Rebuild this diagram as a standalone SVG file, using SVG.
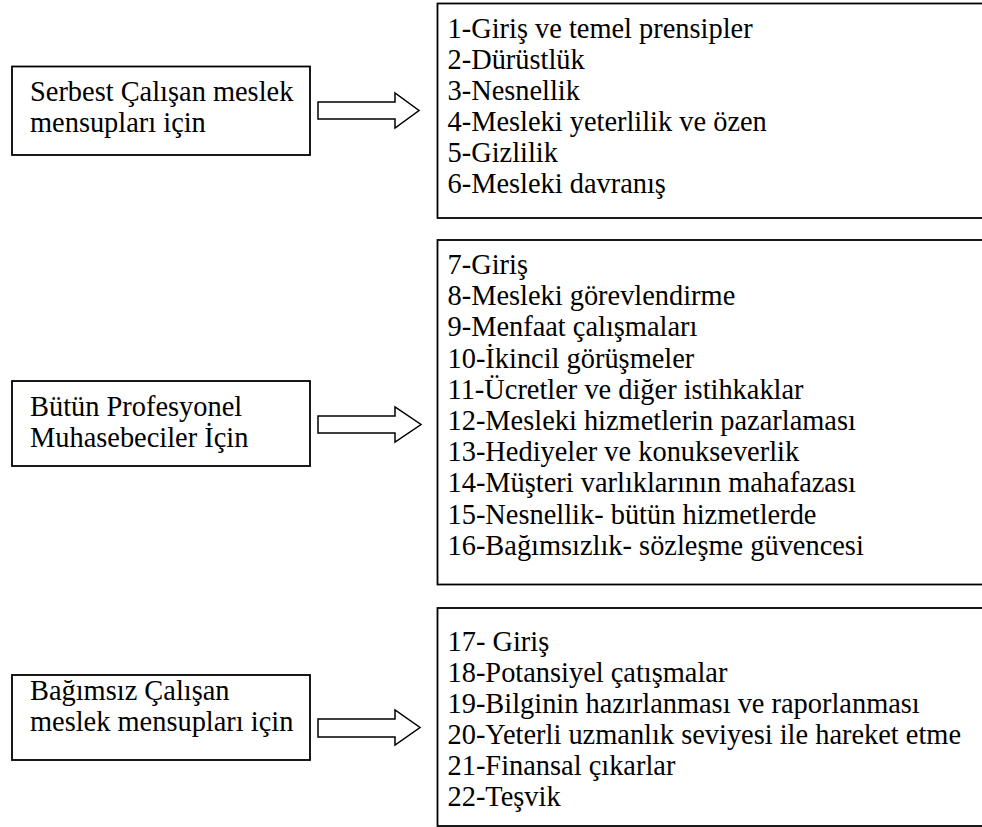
<svg xmlns="http://www.w3.org/2000/svg" width="982" height="827" viewBox="0 0 982 827">
<style>
.box{fill:#fff;stroke:#000;stroke-width:1.8}
.arr{fill:#fff;stroke:#000;stroke-width:1.5;stroke-linejoin:miter}
.t{font-family:'Liberation Serif','Times New Roman',Times,'DejaVu Serif',serif;font-size:28.4px;fill:#000}
</style>
<rect width="982" height="827" fill="#fff"/>
<g class="t" font-family="Liberation Serif, Times New Roman, serif">
<g id="left1"><rect class="box" x="12" y="66.5" width="298" height="88.5"/><text x="30" y="101">Serbest Çalışan meslek</text><text x="30" y="132">mensupları için</text></g>
<g id="left2"><rect class="box" x="12" y="381" width="298" height="85"/><text x="30" y="416">Bütün Profesyonel</text><text x="30" y="447">Muhasebeciler İçin</text></g>
<g id="left3"><rect class="box" x="12" y="675" width="298" height="85"/><text x="30" y="700">Bağımsız Çalışan</text><text x="30" y="731">meslek mensupları için</text></g>
<g id="right1"><rect class="box" x="437.5" y="3.5" width="550" height="214.5"/>
<text x="447.5" y="37.5">1-Giriş ve temel prensipler</text>
<text x="447.5" y="68.5">2-Dürüstlük</text>
<text x="447.5" y="99.5">3-Nesnellik</text>
<text x="447.5" y="130.5">4-Mesleki yeterlilik ve özen</text>
<text x="447.5" y="161.5">5-Gizlilik</text>
<text x="447.5" y="192.5">6-Mesleki davranış</text></g>
<g id="right2"><rect class="box" x="437.5" y="240" width="550" height="344.5"/>
<text x="447.5" y="274">7-Giriş</text>
<text x="447.5" y="305.2">8-Mesleki görevlendirme</text>
<text x="447.5" y="336.4">9-Menfaat çalışmaları</text>
<text x="447.5" y="367.6">10-İkincil görüşmeler</text>
<text x="447.5" y="398.8">11-Ücretler ve diğer istihkaklar</text>
<text x="447.5" y="430">12-Mesleki hizmetlerin pazarlaması</text>
<text x="447.5" y="461.2">13-Hediyeler ve konukseverlik</text>
<text x="447.5" y="492.4">14-Müşteri varlıklarının mahafazası</text>
<text x="447.5" y="523.6">15-Nesnellik- bütün hizmetlerde</text>
<text x="447.5" y="554.8">16-Bağımsızlık- sözleşme güvencesi</text></g>
<g id="right3"><rect class="box" x="437.5" y="608" width="550" height="218"/>
<text x="447.5" y="650.5">17- Giriş</text>
<text x="447.5" y="681.5">18-Potansiyel çatışmalar</text>
<text x="447.5" y="712.5">19-Bilginin hazırlanması ve raporlanması</text>
<text x="447.5" y="743.5">20-Yeterli uzmanlık seviyesi ile hareket etme</text>
<text x="447.5" y="774.5">21-Finansal çıkarlar</text>
<text x="447.5" y="805.5">22-Teşvik</text></g>
</g>
<g id="connectors">
<polygon class="arr" points="318,102 395,102 395,93 419,110.5 395,128 395,119 318,119"/>
<polygon class="arr" points="318,416 395,416 395,407 421,424.5 395,442 395,433 318,433"/>
<polygon class="arr" points="318,719 395,719 395,710 420,727.5 395,745 395,737 318,737"/>
</g>
</svg>
